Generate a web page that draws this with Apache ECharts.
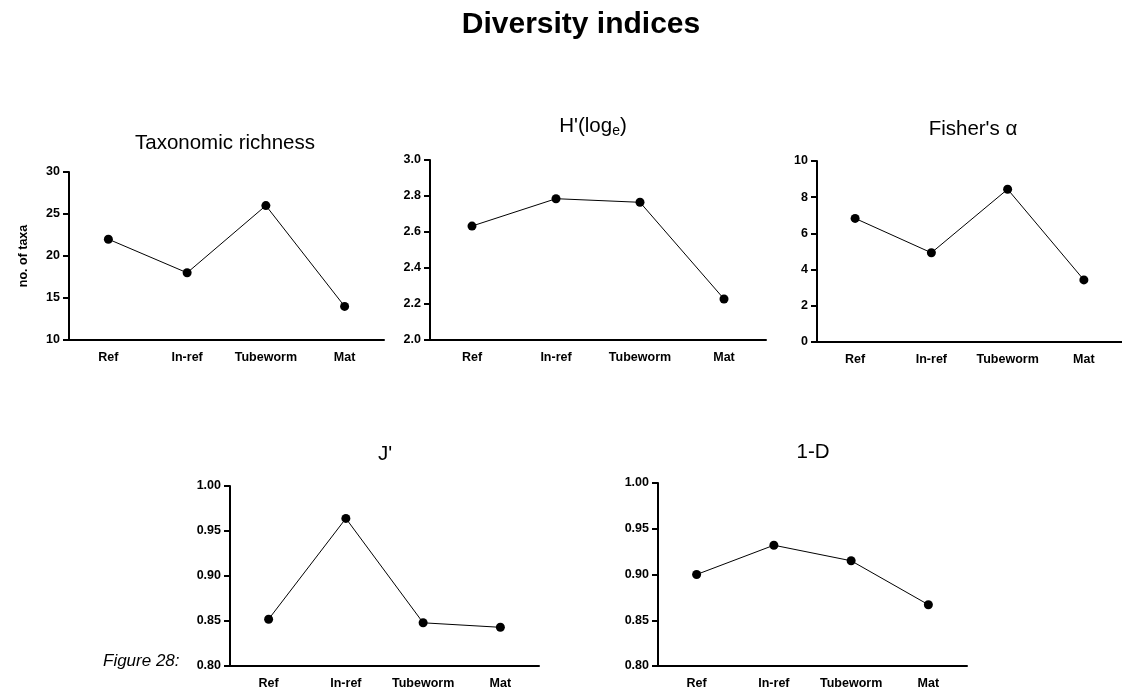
<!DOCTYPE html>
<html>
<head>
<meta charset="utf-8">
<script src="https://cdn.jsdelivr.net/npm/echarts@6/dist/echarts.min.js"></script>
<style>
html,body{margin:0;padding:0;background:#fff;}
#main{width:1122px;height:690px;}
</style>
</head>
<body>
<div id="main"></div>
<script>
const categories = ['Ref', 'In-ref', 'Tubeworm', 'Mat'];
const richness = [22, 18, 26, 14];
const shannon = [2.633, 2.785, 2.765, 2.228];
const fisher = [6.83, 4.93, 8.44, 3.43];
const evenness = [0.852, 0.964, 0.848, 0.843];
const simpson = [0.900, 0.932, 0.915, 0.867];

const panelTitles = ['Taxonomic richness', "H'(log{sub|e})", "Fisher's α", "J'", '1-D'];
const yMins = [10, 2.0, 0, 0.80, 0.80];
const yMaxs = [30, 3.0, 10, 1.00, 1.00];
const yIntervals = [5, 0.2, 2, 0.05, 0.05];
const yDecimals = [0, 1, 0, 2, 2];
const yNames = ['no. of taxa', '', '', '', ''];
const seriesData = [richness, shannon, fisher, evenness, simpson];

const FONT = '"Liberation Sans", Arial, sans-serif';
const grids = [
  {left: 69, top: 172, width: 315, height: 168},
  {left: 430, top: 160, width: 336, height: 180},
  {left: 817, top: 161, width: 311, height: 181},
  {left: 230, top: 486, width: 309, height: 182},
  {left: 658, top: 483, width: 309, height: 183}
];
const titlePos = [[225, 143], [593, 126], [973, 129], [385, 454], [813, 452]];

const titles = [{
  text: 'Diversity indices', left: 581, top: 25, textAlign: 'center', textVerticalAlign: 'middle', padding: 0,
  textStyle: {fontFamily: FONT, fontSize: 30, fontWeight: 'bold', color: '#000'}
}, {
  text: 'Figure 28:', left: 103, top: 661, textAlign: 'left', textVerticalAlign: 'middle', padding: 0,
  textStyle: {fontFamily: FONT, fontSize: 17, fontStyle: 'italic', fontWeight: 'normal', color: '#000'}
}];
panelTitles.forEach((t, i) => {
  titles.push({
    text: t, left: titlePos[i][0], top: titlePos[i][1], textAlign: 'center', textVerticalAlign: 'middle', padding: 0,
    textStyle: {fontFamily: FONT, fontSize: 20.5, fontWeight: 'normal', color: '#000',
      rich: {sub: {fontFamily: FONT, fontSize: 14, color: '#000', padding: [10, 0, 0, 0]}}}
  });
});

const xAxes = [], yAxes = [], series = [];
for (let i = 0; i < 5; i++) {
  xAxes.push({
    type: 'category', gridIndex: i, data: categories, boundaryGap: true,
    axisLine: {lineStyle: {color: '#000', width: 2}},
    axisTick: {alignWithLabel: true, interval: 0, length: 6, lineStyle: {color: '#000', width: 2}},
    axisLabel: {interval: 0, color: '#000', fontFamily: FONT, fontWeight: 'bold', fontSize: 12.5, margin: 11},
    splitLine: {show: false}
  });
  const dec = yDecimals[i];
  yAxes.push({
    type: 'value', gridIndex: i, min: yMins[i], max: yMaxs[i], interval: yIntervals[i],
    name: yNames[i], nameLocation: 'middle', nameGap: 39, nameRotate: 90,
    nameTextStyle: {color: '#000', fontFamily: FONT, fontWeight: 'bold', fontSize: 12.5},
    axisLine: {show: true, lineStyle: {color: '#000', width: 2}},
    axisTick: {show: true, length: 6, lineStyle: {color: '#000', width: 2}},
    axisLabel: {color: '#000', fontFamily: FONT, fontWeight: 'bold', fontSize: 12.5, margin: 9,
      formatter: v => Number(v).toFixed(dec)},
    splitLine: {show: false}
  });
  series.push({
    type: 'line', xAxisIndex: i, yAxisIndex: i, data: seriesData[i],
    symbol: 'circle', symbolSize: 9,
    lineStyle: {color: '#000', width: 1},
    itemStyle: {color: '#000'},
    animation: false
  });
}

const chart = echarts.init(document.getElementById('main'));
chart.setOption({
  backgroundColor: '#fff',
  animation: false,
  title: titles,
  grid: grids,
  xAxis: xAxes,
  yAxis: yAxes,
  series: series
});
</script>
</body>
</html>
